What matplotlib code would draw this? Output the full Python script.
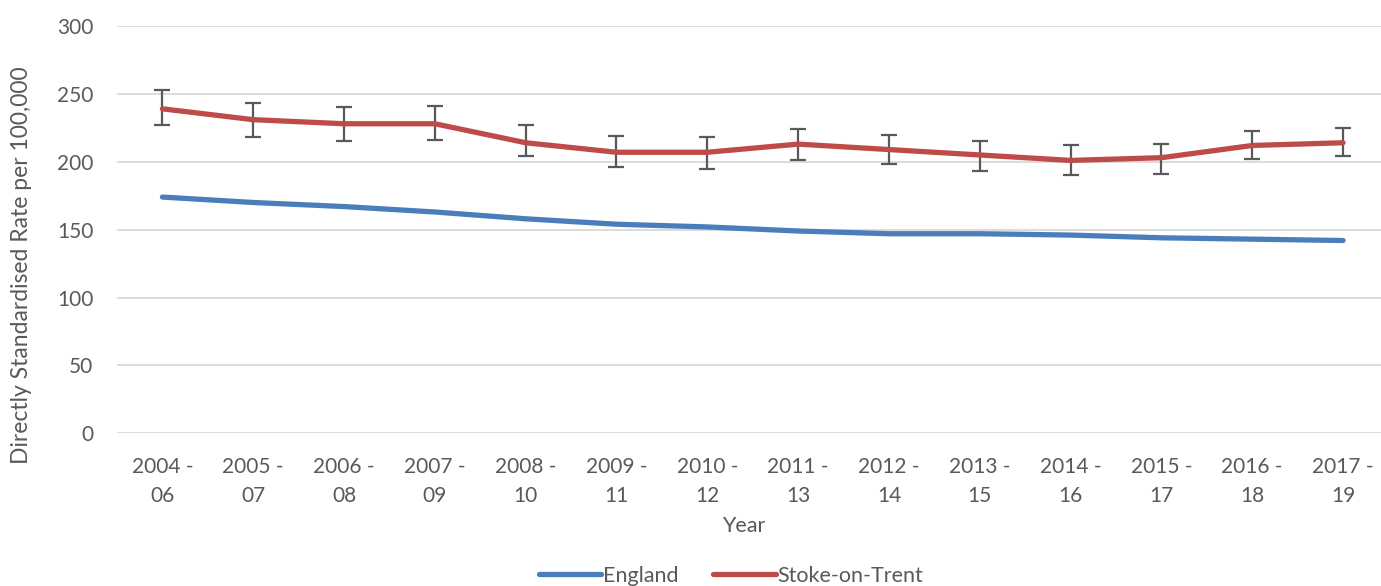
import numpy as np
import matplotlib
matplotlib.use("Agg")
import matplotlib.pyplot as plt

periods = ["2004 -\n06", "2005 -\n07", "2006 -\n08", "2007 -\n09", "2008 -\n10",
           "2009 -\n11", "2010 -\n12", "2011 -\n13", "2012 -\n14", "2013 -\n15",
           "2014 -\n16", "2015 -\n17", "2016 -\n18", "2017 -\n19"]
england = [174, 170, 167, 163, 158, 154, 152, 149, 147, 147, 146, 144, 143, 142]
stoke = [239, 231, 228, 228, 214, 207, 207, 213, 209, 205, 201, 203, 212, 214]
stoke_lower = [227, 218, 215, 216, 204, 196, 195, 201, 198, 193, 190, 191, 202, 204]
stoke_upper = [253, 243, 240, 241, 227, 219, 218, 224, 220, 215, 212, 213, 223, 225]

plt.rcParams['font.family'] = ['Lato', 'DejaVu Sans']
grey = '#595959'

fig = plt.figure(figsize=(13.81, 5.86), dpi=100)
W, H = 1381, 586
ax = fig.add_axes([117 / W, 1 - 433.3 / H, (1381 - 117) / W, (433.3 - 26) / H])

x = np.arange(len(periods))
ax.plot(x, england, color='#4A7EBB', lw=3.8, solid_capstyle='round', label='England', zorder=3)
yerr = [np.array(stoke) - np.array(stoke_lower), np.array(stoke_upper) - np.array(stoke)]
ax.errorbar(x, stoke, yerr=yerr, fmt='none', ecolor=grey, elinewidth=1.6,
            capsize=6, capthick=1.6, zorder=2)
ax.plot(x, stoke, color='#BE4B48', lw=3.8, solid_capstyle='round',
        label='Stoke-on-Trent', zorder=4)

ax.set_ylim(0, 300)
ax.set_yticks(range(0, 301, 50))
ax.set_xlim(-0.5, 13 + (1381 - 1343) / 90.9)
ax.set_xticks(x)
ax.set_xticklabels(periods, linespacing=1.55)
ax.grid(axis='y', color='#D9D9D9', lw=1.3)
ax.set_axisbelow(True)
for s in ax.spines.values():
    s.set_visible(False)
ax.tick_params(axis='both', length=0, labelsize=15, labelcolor=grey)
ax.tick_params(axis='y', pad=17)
ax.tick_params(axis='x', pad=17)

fig.text(22 / W, 1 - 265 / H, 'Directly Standardised Rate per 100,000', rotation=90,
         ha='center', va='center', fontsize=16.5, color=grey)
fig.text(744 / W, 1 - 526 / H, 'Year', ha='center', va='center', fontsize=15.5, color=grey)

fig.legend(loc='center', bbox_to_anchor=(731 / W, 1 - 576 / H), ncol=2, frameon=False,
           fontsize=15.5, labelcolor=grey, handlelength=2.9, handletextpad=0.1,
           columnspacing=1.6)

fig.savefig('out.png', dpi=100)
